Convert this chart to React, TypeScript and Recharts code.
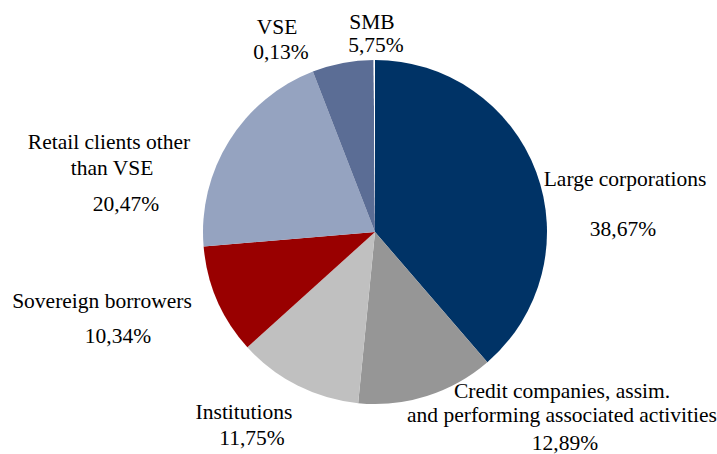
import { PieChart, Pie, Cell, Customized } from 'recharts';

const segments = [
  'Large corporations',
  'Credit companies, assim. and performing associated activities',
  'Institutions',
  'Sovereign borrowers',
  'Retail clients other than VSE',
  'SMB',
  'VSE',
];
const shares = [38.67, 12.89, 11.75, 10.34, 20.47, 5.75, 0.13];
const colors = ['#003366', '#969696', '#C0C0C0', '#990000', '#95A3C0', '#5B6D95', '#FFFFFF'];

const PIE_CX = 375;
const PIE_CY = 232;

// label lines per slice, with position relative to pie centre
const labelLines: Record<string, { text: string; dx: number; dy: number }[]> = {
  'Large corporations': [
    { text: 'Large corporations', dx: 250, dy: -53 },
    { text: '38,67%', dx: 248, dy: -3 },
  ],
  'Credit companies, assim. and performing associated activities': [
    { text: 'Credit companies, assim.', dx: 187, dy: 159 },
    { text: 'and performing associated activities', dx: 187, dy: 183 },
    { text: '12,89%', dx: 190, dy: 211 },
  ],
  Institutions: [
    { text: 'Institutions', dx: -131, dy: 180 },
    { text: '11,75%', dx: -123, dy: 206 },
  ],
  'Sovereign borrowers': [
    { text: 'Sovereign borrowers', dx: -273, dy: 69 },
    { text: '10,34%', dx: -257, dy: 104 },
  ],
  'Retail clients other than VSE': [
    { text: 'Retail clients other', dx: -266, dy: -90 },
    { text: 'than VSE', dx: -263, dy: -64 },
    { text: '20,47%', dx: -249, dy: -28 },
  ],
  SMB: [
    { text: 'SMB', dx: -3, dy: -210 },
    { text: '5,75%', dx: 1, dy: -187 },
  ],
  VSE: [
    { text: 'VSE', dx: -98, dy: -205 },
    { text: '0,13%', dx: -94, dy: -180 },
  ],
};

const data = segments.map((name, i) => ({ name, value: shares[i] }));

const Labels = () => (
  <g>
    {segments.map((name) =>
      (labelLines[name] || []).map((l, i) => (
        <text
          key={name + i}
          x={PIE_CX + l.dx}
          y={PIE_CY + l.dy + 7}
          textAnchor="middle"
          fill="#000"
          fontFamily="Liberation Serif"
          fontSize={21.5}
        >
          {l.text}
        </text>
      ))
    )}
  </g>
);

export default function App() {
  return (
    <div style={{ position: 'absolute', left: 0, top: 0, background: '#fff' }}>
      <PieChart width={717} height={454} margin={{ top: 0, right: 0, bottom: 0, left: 0 }}>
        <Pie
          data={data}
          dataKey="value"
          nameKey="name"
          cx={PIE_CX}
          cy={PIE_CY}
          outerRadius={172}
          startAngle={90}
          endAngle={-270}
          stroke="none"
          labelLine={false}
          isAnimationActive={false}
        >
          {data.map((d, i) => (
            <Cell key={d.name} fill={colors[i]} />
          ))}
        </Pie>
        <Customized component={Labels} />
      </PieChart>
    </div>
  );
}
